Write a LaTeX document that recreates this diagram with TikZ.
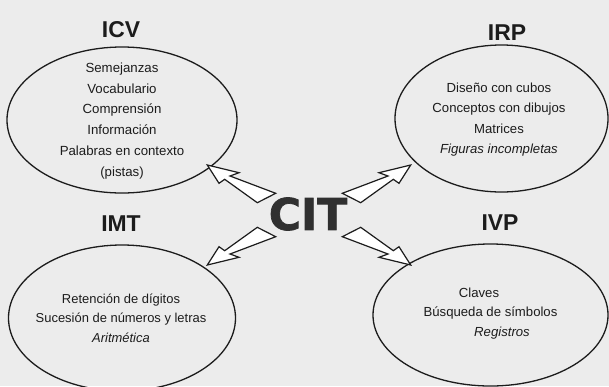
\documentclass[tikz,border=0pt]{standalone}
\usepackage{fontspec}
\setmainfont{Liberation Sans}
\newfontfamily\citfont{DejaVu Sans}[BoldFeatures={FakeBold=1.6}]
\usetikzlibrary{shapes.geometric}
\definecolor{bgc}{RGB}{236,236,236}
\definecolor{ink}{RGB}{28,28,28}
\definecolor{citgray}{RGB}{48,48,48}
\begin{document}
\begin{tikzpicture}[x=1bp,y=-1bp,
  oval/.style={ellipse, draw=ink, line width=1.3bp, inner sep=0pt},
  ttl/.style={font=\fontsize{23}{23}\selectfont\bfseries, text=ink, inner sep=0pt},
  body/.style={font=\fontsize{13.2}{20.6}\selectfont, text=ink, align=center, inner sep=0pt},
  arr/.style={draw=ink, fill=white, line width=1.2bp, line join=miter}]
\useasboundingbox (0,0) rectangle (609,386);
\fill[bgc] (0,0) rectangle (609,386);

% ellipses
\node[oval, minimum width=230bp, minimum height=146bp] (icv) at (122,120) {};
\node[oval, minimum width=213bp, minimum height=147bp] (irp) at (501.5,118.5) {};
\node[oval, minimum width=227bp, minimum height=146bp] (imt) at (122,318) {};
\node[oval, minimum width=235bp, minimum height=142bp] (ivp) at (490.5,315) {};

% titles
\node[ttl] (ticv) at (121,30) {ICV};
\node[ttl] (tirp) at (507,33) {IRP};
\node[ttl] (timt) at (121,224) {IMT};
\node[ttl] (tivp) at (500,223) {IVP};

% contents
\node[body, font=\fontsize{13.3}{21}\selectfont] (bicv) at (122,121) {Semejanzas\\Vocabulario\\Comprensión\\Información\\Palabras en contexto\\(pistas)};
\node[body] (birp) at (499,119.5) {Diseño con cubos\\Conceptos con dibujos\\Matrices\\\textit{Figuras incompletas}};
\node[body, font=\fontsize{13}{19.7}\selectfont] (bimt) at (121,318) {Retención de dígitos\\Sucesión de números y letras\\\textit{Aritmética}};
\node[body] (bivp1) at (479,293) {Claves};
\node[body] (bivp2) at (490.5,313) {Búsqueda de símbolos};
\node[body] (bivp3) at (502,333) {\textit{Registros}};

% centre
\node[font=\citfont\fontsize{44}{44}\selectfont\bfseries, text=citgray, inner sep=0pt] (cit) at (308,214) {CIT};

% arrows from the centre towards the four ellipses
\begin{scope}[shift={(cit)}, shift={(1,1)}]
  \foreach \sx/\sy in {1/1,-1/1,1/-1,-1/-1}{
    \draw[arr, xscale=\sx, yscale=\sy]
      (-101.7,-50) -- (-70,-42.3) -- (-79,-39) -- (-33.3,-21.7)
      -- (-51.7,-12.3) -- (-84.3,-35.7) -- (-90,-31.7) -- cycle;
  }
\end{scope}
\end{tikzpicture}
\end{document}
